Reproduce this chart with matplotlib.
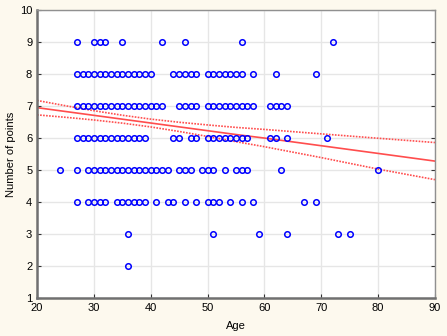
import numpy as np
import matplotlib.pyplot as plt

plt.rcParams['font.family'] = ['Liberation Sans', 'DejaVu Sans']

ages_9 = [27, 30, 31, 32, 35, 42, 46, 56, 72]
ages_8 = list(range(27, 41)) + [44, 45, 46, 47, 48] + list(range(50, 57)) + [58, 62, 69]
ages_7 = list(range(27, 43)) + [45, 46, 47, 48] + list(range(50, 59)) + [61, 62, 63, 64]
ages_6 = list(range(27, 40)) + [44, 45, 47, 48] + list(range(50, 58)) + [61, 62, 64, 71]
ages_5 = [24, 27] + list(range(29, 44)) + [45, 46, 47, 49, 50, 51, 53, 55, 56, 57, 63, 80]
ages_4 = [27, 29, 30, 31, 32, 34, 35, 36, 37, 38, 39, 41, 43, 44, 46, 48,
          50, 51, 52, 54, 56, 58, 67, 69]
ages_3 = [36, 51, 59, 64, 73, 75]
ages_2 = [36]

by_score = {9: ages_9, 8: ages_8, 7: ages_7, 6: ages_6,
            5: ages_5, 4: ages_4, 3: ages_3, 2: ages_2}

# regression line and 95% band
fit_x = [20, 25, 30, 35, 40, 45, 50, 55, 60, 70, 80, 90]
fit_y = [6.95, 6.83, 6.71, 6.59, 6.47, 6.35, 6.23, 6.11, 6.00, 5.76, 5.52, 5.28]
band_hi = [7.175, 7.01, 6.855, 6.713, 6.592, 6.494, 6.41, 6.333, 6.27, 6.131, 5.994, 5.86]
band_lo = [6.725, 6.649, 6.565, 6.467, 6.348, 6.206, 6.05, 5.887, 5.73, 5.389, 5.03, 4.70]

bg = '#fdf9ee'
fig = plt.figure(figsize=(4.47, 3.36), dpi=100, facecolor=bg)
ax = fig.add_axes([0.083, 0.113, 0.890, 0.857])
ax.set_facecolor('white')

xs = []
ys = []
for score, ages in by_score.items():
    xs += ages
    ys += [score] * len(ages)
ax.plot(xs, ys, 'o', ms=4, mfc='none', mec='#0000ff', mew=1.1, zorder=3)

red = '#ff4d4d'
ax.plot(fit_x, fit_y, color=red, lw=1.2, zorder=2)
ax.plot(fit_x, band_hi, color=red, lw=1.2, ls=(0, (1, 0.8)), zorder=2)
ax.plot(fit_x, band_lo, color=red, lw=1.2, ls=(0, (1, 0.8)), zorder=2)

ax.set_xlim(20, 90)
ax.set_ylim(1, 10)
ax.set_xticks(range(20, 91, 10))
ax.set_yticks(range(1, 11))
ax.grid(True, color='#e6e6e6', lw=1)
ax.set_axisbelow(True)
ax.tick_params(direction='in', length=3, labelsize=8, colors='#333333',
               right=True, labelcolor='black')

for side in ['left', 'bottom']:
    ax.spines[side].set_color('#707070')
    ax.spines[side].set_linewidth(1.8)
for side in ['right', 'top']:
    ax.spines[side].set_color('#909090')
    ax.spines[side].set_linewidth(1.0)

ax.set_xlabel('Age', fontsize=8, labelpad=6)
ax.set_ylabel('Number of points', fontsize=8, labelpad=3)

fig.savefig('out.png', dpi=100, facecolor=bg)
